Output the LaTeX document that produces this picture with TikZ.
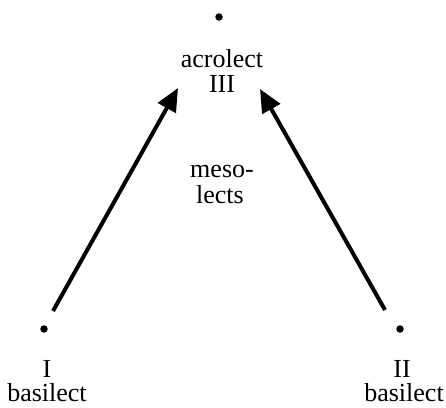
\documentclass[tikz,border=0pt]{standalone}
\usepackage{fontspec}
\setmainfont{Liberation Serif}
\usetikzlibrary{arrows.meta}
\begin{document}
\begin{tikzpicture}[x=1pt,y=-1pt,
  dotnode/.style={circle,fill=black,inner sep=0pt,minimum size=7.5pt},
  lbl/.style={inner sep=0pt,anchor=base,font=\fontsize{26}{30}\selectfont},
  bigarrow/.style={line width=4pt,-{Triangle[length=23pt,width=20pt]}}]
\useasboundingbox (0,0) rectangle (446,407);
% dots
\node[dotnode] (top) at (219,17) {};
\node[dotnode] (left) at (44,329) {};
\node[dotnode] (right) at (400,329) {};
% labels
\node[lbl] (acro) at (222,67) {acrolect};
\node[lbl] (three) at (222,92) {III};
\node[lbl] (meso) at (222,177) {meso-};
\node[lbl] (lects) at (220,203) {lects};
\node[lbl] (one) at (47,377) {I};
\node[lbl] (basL) at (47,401) {basilect};
\node[lbl] (two) at (402,377) {II};
\node[lbl] (basR) at (404,401) {basilect};
% arrows
\coordinate (lstart) at (53,311);
\coordinate (ltip) at (178,88);
\coordinate (rstart) at (385,310);
\coordinate (rtip) at (260,89);
\draw[bigarrow] (lstart) -- (ltip);
\draw[bigarrow] (rstart) -- (rtip);
\end{tikzpicture}
\end{document}
